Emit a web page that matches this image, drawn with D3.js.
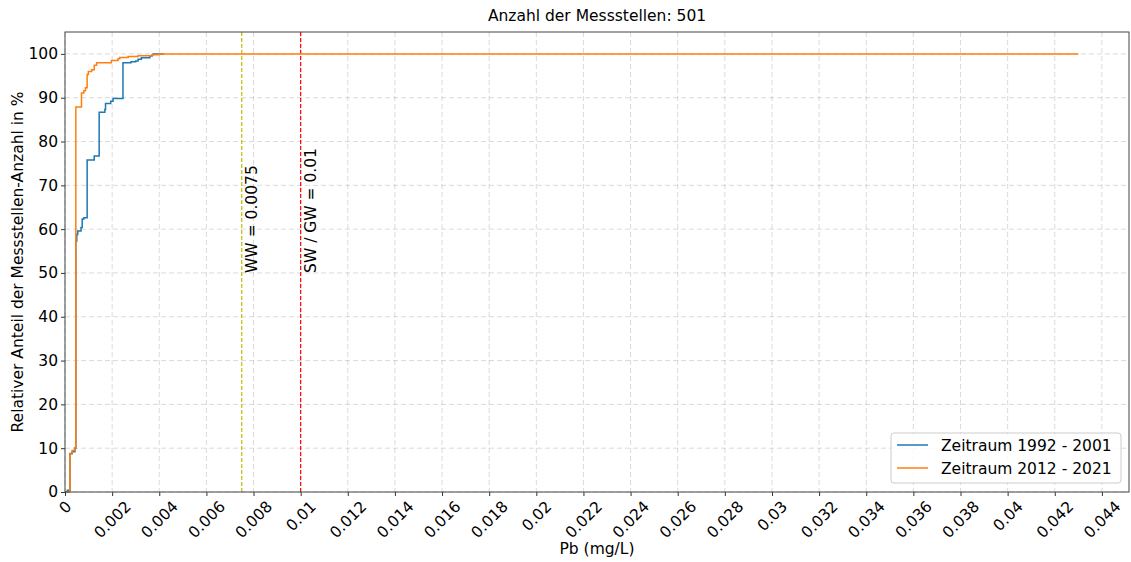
<html>
  <head>
    <meta charset="utf-8">
    <title>Pb Messstellen</title>
    <style>
      body { margin: 0; background: #fff; }
      text { font-family: 'DejaVu Sans', sans-serif; fill: #000; }
    </style>
  </head>
  <body>
    <script src="https://d3js.org/d3.v7.min.js"></script>
    <script>
      // Step points (x in mg/L, y in %)
      var blueX = [0, 0.0001, 0.00021, 0.0003, 0.00042, 0.00046, 0.0005, 0.00054, 0.00068, 0.00073, 0.0008, 0.00094, 0.00124, 0.00145, 0.00169, 0.00172, 0.00194, 0.00204, 0.00246, 0.0028, 0.003, 0.0031, 0.00324, 0.0036, 0.0037, 0.00374, 0.0042];
      var blueY = [0, 0.4, 8.8, 9.2, 10.0, 57.3, 58.8, 59.6, 60.4, 62.3, 62.6, 75.8, 76.7, 86.7, 87.3, 88.7, 89.2, 89.8, 98.0, 98.2, 98.4, 98.8, 99.1, 99.5, 99.8, 100, 100];

      var orangeX = [0, 0.00021, 0.0003, 0.0004, 0.00046, 0.0007, 0.0008, 0.00087, 0.00094, 0.00099, 0.00113, 0.00124, 0.00134, 0.00197, 0.00225, 0.00232, 0.00268, 0.0031, 0.0037, 0.004, 0.043];
      var orangeY = [0, 8.7, 9.5, 10.1, 87.9, 91.1, 91.6, 92.3, 95.3, 96.0, 96.4, 97.4, 98.0, 98.5, 98.9, 99.2, 99.4, 99.6, 99.8, 100, 100];

      var seriesNames = ['Zeitraum 1992 - 2001', 'Zeitraum 2012 - 2021'];
      var xTicks = d3.range(0, 0.0441, 0.002);
      var yTicks = d3.range(0, 101, 10);
      var limitValues = [0.0075, 0.01];
      var limitLabels = ['WW = 0.0075', 'SW / GW = 0.01'];

      var WIDTH = 1131, HEIGHT = 562;
      var FONT = 15.5; // px
      var margin = {top: 32, right: 2, bottom: 70, left: 65};
      var w = WIDTH - margin.left - margin.right;
      var h = HEIGHT - margin.top - margin.bottom;

      var colors = {
        BLUE: '#1f77b4',
        ORANGE: '#ff7f0e',
        GRID: '#b0b0b0',
        WW: '#bfbf00',
        SW: 'red'
      };

      var svg = d3.select('body').append('svg')
        .attr('width', WIDTH)
        .attr('height', HEIGHT);

      var g = svg.append('g')
        .attr('transform', 'translate(' + margin.left + ',' + margin.top + ')');

      var x = d3.scaleLinear().domain([0, 0.04515]).range([0, w]);
      var y = d3.scaleLinear().domain([0, 105]).range([h, 0]);

      // grid
      g.append('g').selectAll('line').data(xTicks).enter().append('line')
        .attr('x1', function(d) { return x(d); })
        .attr('x2', function(d) { return x(d); })
        .attr('y1', 0).attr('y2', h)
        .attr('stroke', colors.GRID).attr('stroke-opacity', 0.6)
        .attr('stroke-dasharray', '5,3').attr('stroke-width', 0.8);
      g.append('g').selectAll('line').data(yTicks).enter().append('line')
        .attr('y1', function(d) { return y(d); })
        .attr('y2', function(d) { return y(d); })
        .attr('x1', 0).attr('x2', w)
        .attr('stroke', colors.GRID).attr('stroke-opacity', 0.6)
        .attr('stroke-dasharray', '5,3').attr('stroke-width', 0.8);

      // limit lines
      var limitColors = [colors.WW, colors.SW];
      limitValues.forEach(function(v, i) {
        g.append('line')
          .attr('x1', x(v)).attr('x2', x(v))
          .attr('y1', 0).attr('y2', h)
          .attr('stroke', limitColors[i])
          .attr('stroke-width', 1.2)
          .attr('stroke-dasharray', '4,2');
        g.append('text')
          .attr('transform', 'translate(' + (x(v) + 15) + ',' + y(50) + ') rotate(-90)')
          .attr('font-size', FONT + 'px')
          .text(limitLabels[i]);
      });

      // curves
      var line = d3.line()
        .x(function(d) { return x(d[0]); })
        .y(function(d) { return y(d[1]); })
        .curve(d3.curveStepAfter);

      g.append('path')
        .datum(d3.zip(blueX, blueY))
        .attr('fill', 'none')
        .attr('stroke', colors.BLUE)
        .attr('stroke-width', 1.5)
        .attr('d', line);

      g.append('path')
        .datum(d3.zip(orangeX, orangeY))
        .attr('fill', 'none')
        .attr('stroke', colors.ORANGE)
        .attr('stroke-width', 1.5)
        .attr('d', line);

      // axes
      var xAxis = g.append('g')
        .attr('transform', 'translate(0,' + h + ')')
        .call(d3.axisBottom(x).tickValues(xTicks).tickSize(4)
          .tickFormat(function(d) { return String(+d.toFixed(3)); }));
      // rotated labels, bounding box centred under the tick
      xAxis.selectAll('text')
        .attr('font-size', FONT + 'px')
        .attr('font-family', 'DejaVu Sans')
        .attr('fill', '#000')
        .attr('text-anchor', 'middle')
        .attr('dominant-baseline', 'central')
        .attr('y', 0).attr('dy', null)
        .attr('transform', function() {
          var len = this.getComputedTextLength();
          var off = 8 + (len + FONT * 0.73) * 0.3536;
          return 'translate(0,' + off + ') rotate(-45)';
        });

      var yAxis = g.append('g')
        .call(d3.axisLeft(y).tickValues(yTicks).tickSize(4));
      yAxis.selectAll('text')
        .attr('font-size', FONT + 'px')
        .attr('font-family', 'DejaVu Sans')
        .attr('fill', '#000');

      svg.selectAll('.domain').remove();
      svg.selectAll('.tick line').attr('stroke', '#333');

      // frame
      g.append('rect')
        .attr('width', w).attr('height', h)
        .attr('fill', 'none')
        .attr('stroke', '#444')
        .attr('stroke-width', 1);

      // title and labels
      svg.append('text')
        .attr('x', margin.left + w / 2).attr('y', 21)
        .attr('text-anchor', 'middle')
        .attr('font-size', FONT + 'px')
        .text('Anzahl der Messstellen: 501');

      svg.append('text')
        .attr('x', margin.left + w / 2).attr('y', 554)
        .attr('text-anchor', 'middle')
        .attr('font-size', FONT + 'px')
        .text('Pb (mg/L)');

      svg.append('text')
        .attr('transform', 'translate(23,' + (margin.top + h / 2) + ') rotate(-90)')
        .attr('text-anchor', 'middle')
        .attr('font-size', FONT + 'px')
        .text('Relativer Anteil der Messstellen-Anzahl in %');

      // legend
      var legend = svg.append('g').attr('transform', 'translate(891,433)');
      legend.append('rect')
        .attr('width', 230).attr('height', 50)
        .attr('rx', 3)
        .attr('fill', '#fff').attr('fill-opacity', 0.8)
        .attr('stroke', '#ccc');
      [colors.BLUE, colors.ORANGE].forEach(function(c, i) {
        var yy = 12 + i * 23;
        legend.append('line')
          .attr('x1', 6).attr('x2', 37)
          .attr('y1', yy).attr('y2', yy)
          .attr('stroke', c).attr('stroke-width', 1.5);
        legend.append('text')
          .attr('x', 50).attr('y', yy + 5.5)
          .attr('font-size', FONT + 'px')
          .text(seriesNames[i]);
      });
    </script>
  </body>
</html>
